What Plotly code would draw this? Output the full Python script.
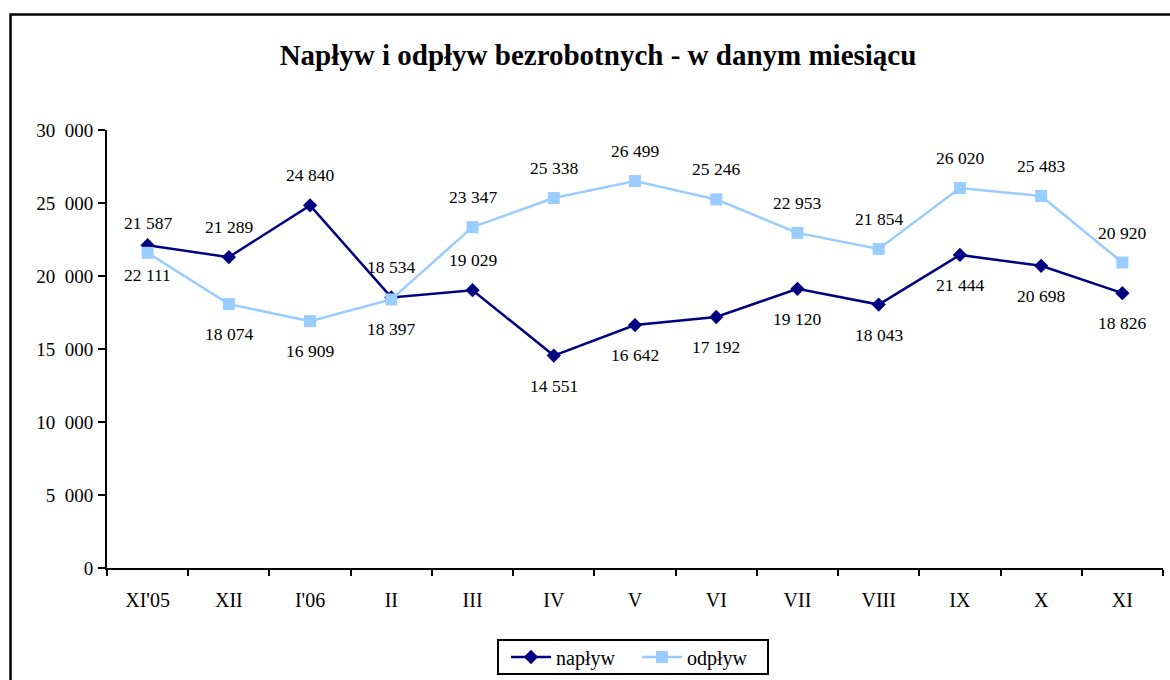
import plotly.graph_objects as go

categories = ["XI'05", "XII", "I'06", "II", "III", "IV", "V", "VI", "VII", "VIII", "IX", "X", "XI"]
naplyw = [22111, 21289, 24840, 18534, 19029, 14551, 16642, 17192, 19120, 18043, 21444, 20698, 18826]
odplyw = [21587, 18074, 16909, 18397, 23347, 25338, 26499, 25246, 22953, 21854, 26020, 25483, 20920]
y_tick_values = [0, 5000, 10000, 15000, 20000, 25000, 30000]
y_tick_labels = ["0", "5\u2002000", "10\u2002000", "15\u2002000", "20\u2002000", "25\u2002000", "30\u2002000"]

# label placement: +1 above the point, -1 below
naplyw_label_side = [-1, 1, 1, 1, 1, -1, -1, -1, -1, -1, -1, -1, -1]
odplyw_label_side = [1, -1, -1, -1, 1, 1, 1, 1, 1, 1, 1, 1, 1]

FONT = "Liberation Serif"
NAVY = "#000080"
LIGHT = "#99CCFF"

fig = go.Figure()
fig.add_trace(go.Scatter(
    x=categories, y=naplyw, name="napływ", mode="lines+markers",
    line=dict(color=NAVY, width=2.5),
    marker=dict(symbol="diamond", size=11, color=NAVY),
))
fig.add_trace(go.Scatter(
    x=categories, y=odplyw, name="odpływ", mode="lines+markers",
    line=dict(color=LIGHT, width=2.5),
    marker=dict(symbol="square", size=12, color=LIGHT),
))

def fmt(v):
    return f"{v:,}".replace(",", " ")

annotations = []
for series, sides in ((naplyw, naplyw_label_side), (odplyw, odplyw_label_side)):
    for c, v, s in zip(categories, series, sides):
        annotations.append(dict(
            x=c, y=v, xref="x", yref="y", text=fmt(v), showarrow=False,
            yshift=30 * s, font=dict(family=FONT, size=17.5, color="black"),
        ))

# body margin is removed below, so figure pixels == screen pixels
W, H = 1170, 680
L, T = 107, 130
R = W - 1163
B = H - 568
pw, ph = W - L - R, H - T - B
plot_bottom = H - B


def px_x(sx):  # screen x -> paper x
    return (sx - L) / pw


def px_y(sy):  # screen y -> paper y
    return (plot_bottom - sy) / ph


fig.update_layout(
    width=W, height=H,
    margin=dict(l=L, r=R, t=T, b=B, autoexpand=False),
    paper_bgcolor="white", plot_bgcolor="white",
    font=dict(family=FONT, size=19, color="black"),
    title=dict(
        text="<b>Napływ i odpływ bezrobotnych - w danym miesiącu</b>",
        x=598 / W, xref="container", xanchor="center",
        y=1 - 55 / H, yref="container", yanchor="middle",
        font=dict(family=FONT, size=29, color="black"),
    ),
    xaxis=dict(
        type="category", range=[-0.5, 12.5],
        showline=True, linecolor="black", linewidth=2,
        ticks="outside", ticklen=6, tickwidth=2, tickcolor="black",
        tickson="boundaries", showgrid=False, zeroline=False,
        ticklabelstandoff=13,
        tickfont=dict(family=FONT, size=20, color="black"),
    ),
    yaxis=dict(
        range=[0, 30000], tickvals=y_tick_values, ticktext=y_tick_labels,
        showline=True, linecolor="black", linewidth=2,
        ticks="outside", ticklen=7, tickwidth=2, tickcolor="black",
        showgrid=False, zeroline=False, ticklabelstandoff=1,
        tickfont=dict(family=FONT, size=19, color="black"),
    ),
    legend=dict(
        orientation="h", x=px_x(506), xanchor="left",
        y=px_y(657), yanchor="middle",
        borderwidth=0, bgcolor="rgba(0,0,0,0)",
        itemwidth=40, entrywidth=76,
        font=dict(family=FONT, size=20, color="black"),
    ),
    annotations=annotations,
    shapes=[
        dict(
            type="rect", xref="paper", yref="paper",
            x0=px_x(10.5), x1=px_x(1190), y0=px_y(700), y1=px_y(14.5),
            line=dict(color="black", width=2.5), fillcolor="rgba(0,0,0,0)",
            layer="below",
        ),
        dict(
            type="rect", xref="paper", yref="paper",
            x0=px_x(498), x1=px_x(768), y0=px_y(674), y1=px_y(640),
            line=dict(color="black", width=2), fillcolor="rgba(0,0,0,0)",
            layer="below",
        ),
    ],
    showlegend=True,
)

fig.write_html(
    "out.html",
    config={"displayModeBar": False},
    post_script="document.body.style.margin='0';document.body.style.overflow='hidden';",
)
